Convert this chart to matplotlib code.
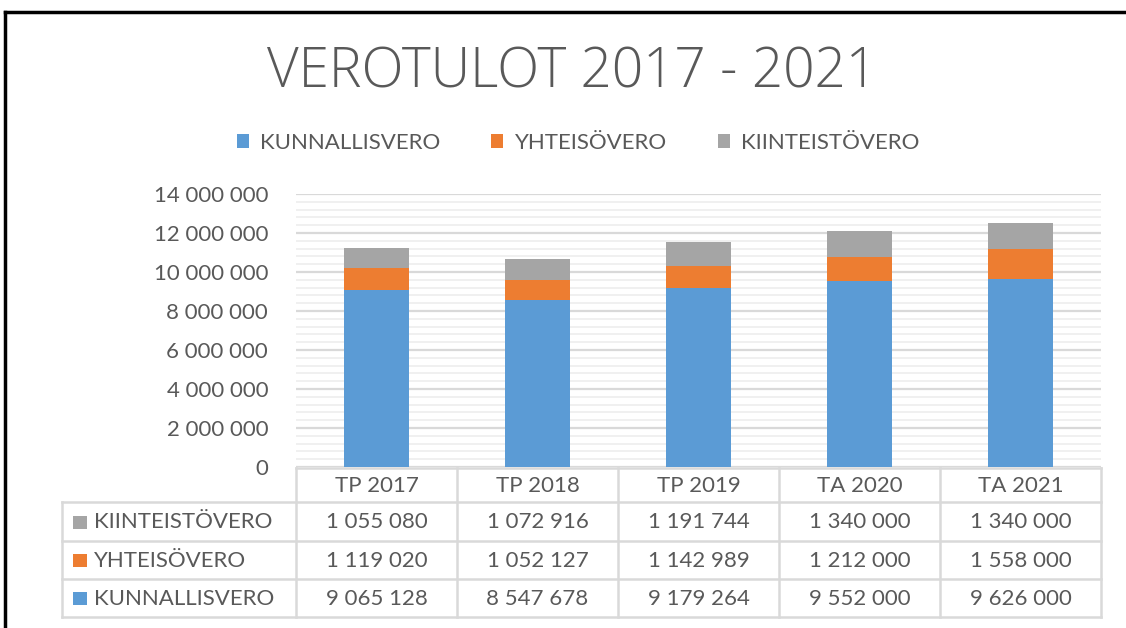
import matplotlib
matplotlib.use("Agg")
import matplotlib.pyplot as plt
from matplotlib.patches import Patch, Rectangle
from matplotlib.lines import Line2D
from matplotlib.transforms import blended_transform_factory
from matplotlib.ticker import MultipleLocator, FuncFormatter

plt.rcParams['font.family'] = ['Lato', 'DejaVu Sans']

categories = ["TP 2017", "TP 2018", "TP 2019", "TA 2020", "TA 2021"]
kunnallisvero = [9065128, 8547678, 9179264, 9552000, 9626000]
yhteisovero = [1119020, 1052127, 1142989, 1212000, 1558000]
kiinteistovero = [1055080, 1072916, 1191744, 1340000, 1340000]
series_names = ["KUNNALLISVERO", "YHTEISÖVERO", "KIINTEISTÖVERO"]
colors = ["#5B9BD5", "#ED7D31", "#A5A5A5"]
title = "VEROTULOT 2017 - 2021"

TXT = "#595959"
FS = 16
W, H = 1126, 628
fig = plt.figure(figsize=(W / 100, H / 100), dpi=100)

def fx(px):
    return px / W

def fy(py):
    return 1 - py / H

ax_l, ax_r, ax_t, ax_b = 296, 1101, 194, 467
ax = fig.add_axes([fx(ax_l), fy(ax_b), (ax_r - ax_l) / W, (ax_b - ax_t) / H])

x = list(range(len(categories)))
bw = 0.40
ax.bar(x, kunnallisvero, bw, color=colors[0], zorder=3)
ax.bar(x, yhteisovero, bw, bottom=kunnallisvero, color=colors[1], zorder=3)
bottom2 = [a + b for a, b in zip(kunnallisvero, yhteisovero)]
ax.bar(x, kiinteistovero, bw, bottom=bottom2, color=colors[2], zorder=3)

ax.set_xlim(-0.5, len(categories) - 0.5)
ax.set_ylim(0, 14000000)
ax.yaxis.set_major_locator(MultipleLocator(2000000))
ax.yaxis.set_minor_locator(MultipleLocator(400000))
ax.yaxis.set_major_formatter(FuncFormatter(lambda v, p: f"{int(v):,}".replace(",", " ")))
ax.grid(axis='y', which='major', color='#d9d9d9', lw=1.6, zorder=0)
ax.grid(axis='y', which='minor', color='#efefef', lw=1.3, zorder=0)
ax.set_axisbelow(True)
for s in ax.spines.values():
    s.set_visible(False)
ax.tick_params(axis='y', which='both', length=0, pad=20, labelsize=FS, labelcolor=TXT)
ax.set_xticks([])

# overlay for table, border and title
ov = fig.add_axes([0, 0, 1, 1], zorder=5)
ov.set_xlim(0, W)
ov.set_ylim(H, 0)
ov.axis('off')
ov.patch.set_alpha(0)

# frame
ov.add_line(Line2D([5, W], [12, 12], color='black', lw=2.5))
ov.add_line(Line2D([5, 5], [12, H], color='black', lw=2.5))

fig.text(fx(572), fy(73), title, ha='center', va='center', fontsize=39.5,
         family=['Open Sans', 'DejaVu Sans'], fontweight='light', color=TXT)

handles = [Patch(facecolor=c, edgecolor='none') for c in colors]
fig.legend(handles, series_names, loc='center', bbox_to_anchor=(fx(578), fy(143)),
           ncol=3, frameon=False, fontsize=FS, labelcolor=TXT,
           handlelength=0.55, handleheight=0.55, handletextpad=0.5,
           columnspacing=2.3)

# data table
tr = blended_transform_factory(ax.transData, ov.transData)
grid_c = '#d9d9d9'
glw = 1.8
rows_y = [468, 502, 541, 579, 617]
table_left = 62
n = len(categories)
ov.add_line(Line2D([-0.5, n - 0.5], [rows_y[0], rows_y[0]], transform=tr, color=grid_c, lw=glw))
for yy in rows_y[1:]:
    ov.add_line(Line2D([table_left, ax_r], [yy, yy], color=grid_c, lw=glw))
for i in range(n + 1):
    ov.add_line(Line2D([i - 0.5, i - 0.5], [rows_y[0], rows_y[-1]], transform=tr, color=grid_c, lw=glw))
ov.add_line(Line2D([table_left, table_left], [rows_y[1], rows_y[-1]], color=grid_c, lw=glw))

for i, c in enumerate(categories):
    ov.text(i, (rows_y[0] + rows_y[1]) / 2 + 1, c, transform=tr, ha='center', va='center',
            fontsize=FS, color=TXT)

table_series = [(series_names[2], kiinteistovero, colors[2]),
                (series_names[1], yhteisovero, colors[1]),
                (series_names[0], kunnallisvero, colors[0])]
for r, (name, vals, col) in enumerate(table_series):
    yc = (rows_y[r + 1] + rows_y[r + 2]) / 2 + 1
    ov.add_patch(Rectangle((73, yc - 7), 14, 13, facecolor=col, edgecolor='none'))
    ov.text(94, yc, name, ha='left', va='center', fontsize=FS, color=TXT)
    for i, v in enumerate(vals):
        ov.text(i, yc, f"{v:,}".replace(",", " "), transform=tr, ha='center', va='center',
                fontsize=FS, color=TXT)

fig.savefig("out.png", dpi=100)
